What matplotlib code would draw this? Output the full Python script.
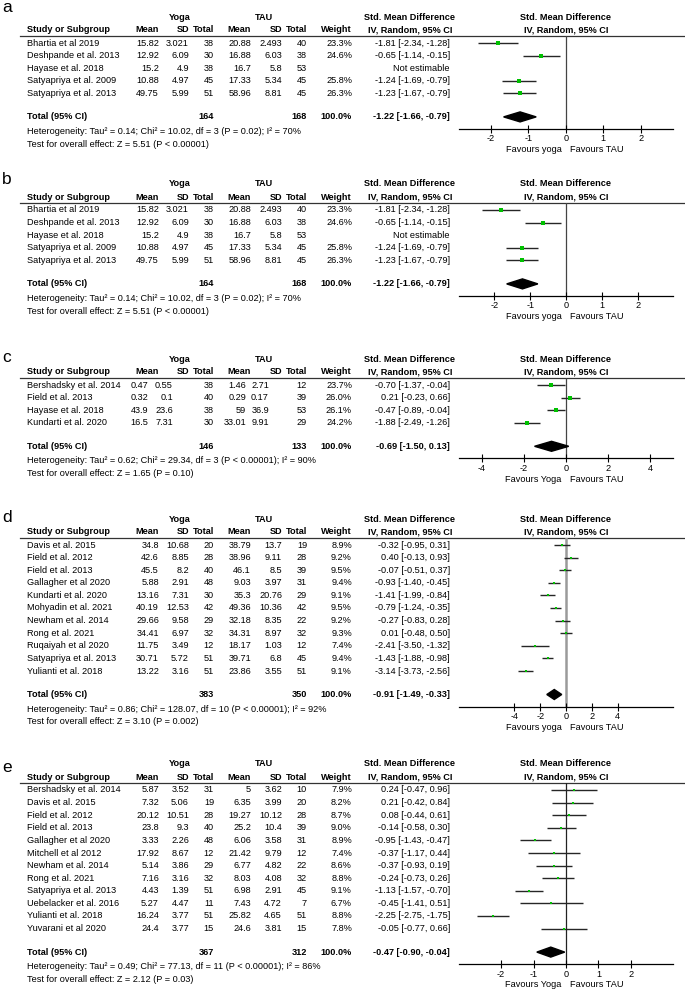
import matplotlib
matplotlib.use('Agg')
import matplotlib.pyplot as plt
from matplotlib.patches import Polygon

# ---------------- data ----------------
# panels a and b (same studies, same numbers)
ab_study = ['Bhartia et al 2019', 'Deshpande et al. 2013', 'Hayase et al. 2018',
            'Satyapriya et al. 2009', 'Satyapriya et al. 2013']
ab_yoga_mean = [15.82, 12.92, 15.2, 10.88, 49.75]
ab_yoga_sd = [3.021, 6.09, 4.9, 4.97, 5.99]
ab_yoga_n = [38, 30, 38, 45, 51]
ab_tau_mean = [20.88, 16.88, 16.7, 17.33, 58.96]
ab_tau_sd = [2.493, 6.03, 5.8, 5.34, 8.81]
ab_tau_n = [40, 38, 53, 45, 45]
ab_weight = [23.3, 24.6, None, 25.8, 26.3]
ab_smd = [-1.81, -0.65, None, -1.24, -1.23]
ab_lo = [-2.34, -1.14, None, -1.69, -1.67]
ab_hi = [-1.28, -0.15, None, -0.79, -0.79]
ab_total = [164, 168, -1.22, -1.66, -0.79]          # n yoga, n TAU, smd, lo, hi
ab_het = [0.14, 10.02, 3, 'P = 0.02', 70]          # tau2, chi2, df, p, I2
ab_test = [5.51, 'P < 0.00001']

# panel c
c_study = ['Bershadsky et al. 2014', 'Field et al. 2013', 'Hayase et al. 2018', 'Kundarti et al. 2020']
c_yoga_mean = [0.47, 0.32, 43.9, 16.5]
c_yoga_sd = [0.55, 0.1, 23.6, 7.31]
c_yoga_n = [38, 40, 38, 30]
c_tau_mean = [1.46, 0.29, 59, 33.01]
c_tau_sd = [2.71, 0.17, 36.9, 9.91]
c_tau_n = [12, 39, 53, 29]
c_weight = [23.7, 26.0, 26.1, 24.2]
c_smd = [-0.70, 0.21, -0.47, -1.88]
c_lo = [-1.37, -0.23, -0.89, -2.49]
c_hi = [-0.04, 0.66, -0.04, -1.26]
c_total = [146, 133, -0.69, -1.50, 0.13]
c_het = [0.62, 29.34, 3, 'P < 0.00001', 90]
c_test = [1.65, 'P = 0.10']

# panel d
d_study = ['Davis et al. 2015', 'Field et al. 2012', 'Field et al. 2013', 'Gallagher et al 2020',
           'Kundarti et al. 2020', 'Mohyadin et al. 2021', 'Newham et al. 2014', 'Rong et al. 2021',
           'Ruqaiyah et al 2020', 'Satyapriya et al. 2013', 'Yulianti et al. 2018']
d_yoga_mean = [34.8, 42.6, 45.5, 5.88, 13.16, 40.19, 29.66, 34.41, 11.75, 30.71, 13.22]
d_yoga_sd = [10.68, 8.85, 8.2, 2.91, 7.31, 12.53, 9.58, 6.97, 3.49, 5.72, 3.16]
d_yoga_n = [20, 28, 40, 48, 30, 42, 29, 32, 12, 51, 51]
d_tau_mean = [38.79, 38.96, 46.1, 9.03, 35.3, 49.36, 32.18, 34.31, 18.17, 39.71, 23.86]
d_tau_sd = [13.7, 9.11, 8.5, 3.97, 20.76, 10.36, 8.35, 8.97, 1.03, 6.8, 3.55]
d_tau_n = [19, 28, 39, 31, 29, 42, 22, 32, 12, 45, 51]
d_weight = [8.9, 9.2, 9.5, 9.4, 9.1, 9.5, 9.2, 9.3, 7.4, 9.4, 9.1]
d_smd = [-0.32, 0.40, -0.07, -0.93, -1.41, -0.79, -0.27, 0.01, -2.41, -1.43, -3.14]
d_lo = [-0.95, -0.13, -0.51, -1.40, -1.99, -1.24, -0.83, -0.48, -3.50, -1.88, -3.73]
d_hi = [0.31, 0.93, 0.37, -0.45, -0.84, -0.35, 0.28, 0.50, -1.32, -0.98, -2.56]
d_total = [383, 350, -0.91, -1.49, -0.33]
d_het = [0.86, 128.07, 10, 'P < 0.00001', 92]
d_test = [3.10, 'P = 0.002']

# panel e
e_study = ['Bershadsky et al. 2014', 'Davis et al. 2015', 'Field et al. 2012', 'Field et al. 2013',
           'Gallagher et al 2020', 'Mitchell et al 2012', 'Newham et al. 2014', 'Rong et al. 2021',
           'Satyapriya et al. 2013', 'Uebelacker et al. 2016', 'Yulianti et al. 2018', 'Yuvarani et al 2020']
e_yoga_mean = [5.87, 7.32, 20.12, 23.8, 3.33, 17.92, 5.14, 7.16, 4.43, 5.27, 16.24, 24.4]
e_yoga_sd = [3.52, 5.06, 10.51, 9.3, 2.26, 8.67, 3.86, 3.16, 1.39, 4.47, 3.77, 3.77]
e_yoga_n = [31, 19, 28, 40, 48, 12, 29, 32, 51, 11, 51, 15]
e_tau_mean = [5, 6.35, 19.27, 25.2, 6.06, 21.42, 6.77, 8.03, 6.98, 7.43, 25.82, 24.6]
e_tau_sd = [3.62, 3.99, 10.12, 10.4, 3.58, 9.79, 4.82, 4.08, 2.91, 4.72, 4.65, 3.81]
e_tau_n = [10, 20, 28, 39, 31, 12, 22, 32, 45, 7, 51, 15]
e_weight = [7.9, 8.2, 8.7, 9.0, 8.9, 7.4, 8.6, 8.8, 9.1, 6.7, 8.8, 7.8]
e_smd = [0.24, 0.21, 0.08, -0.14, -0.95, -0.37, -0.37, -0.24, -1.13, -0.45, -2.25, -0.05]
e_lo = [-0.47, -0.42, -0.44, -0.58, -1.43, -1.17, -0.93, -0.73, -1.57, -1.41, -2.75, -0.77]
e_hi = [0.96, 0.84, 0.61, 0.30, -0.47, 0.44, 0.19, 0.26, -0.70, 0.51, -1.75, 0.66]
e_total = [367, 312, -0.47, -0.90, -0.04]
e_het = [0.49, 77.13, 11, 'P < 0.00001', 86]
e_test = [2.12, 'P = 0.03']

# ---------------- layout ----------------
W, H = 685, 990
FS = 6.6
GREEN = '#00c000'
X_STUDY = 27
COLS = [159, 189, 214, 251, 282, 307]   # right edges: mean, sd, total (yoga), mean, sd, total (TAU)
X_W = 352
X_CI = 450
X_CI_HEAD = 410
X_P0, X_P1 = 459, 673
PITCH = 12.6

plt.rcParams['font.family'] = ['Liberation Sans', 'DejaVu Sans']

fig = plt.figure(figsize=(W / 100, H / 100), dpi=100)
bg = fig.add_axes([0, 0, 1, 1])
bg.set_xlim(0, W)
bg.set_ylim(H, 0)
bg.axis('off')


def fmt_ci(s, lo, hi):
    return f'{s:.2f} [{lo:.2f}, {hi:.2f}]'


def draw_panel(label, label_y, top, study, ym, ysd, yn, tm, tsd, tn, wt, smd, lo, hi,
               total, het, test, ticks, xlim, fav_left, ms, dcols=None,
               vcolor='#444444', vlw=0.9):
    dcols = dcols or COLS
    bg.text(2, label_y, label, fontsize=12.5, ha='left', va='center')

    # header
    hk = dict(fontsize=FS, weight='bold', va='center')
    bg.text(180, top, 'Yoga', ha='center', **hk)
    bg.text(264, top, 'TAU', ha='center', **hk)
    bg.text(X_CI_HEAD, top, 'Std. Mean Difference', ha='center', **hk)
    bg.text((X_P0 + X_P1) / 2, top, 'Std. Mean Difference', ha='center', **hk)
    h2 = top + 13
    bg.text(X_STUDY, h2, 'Study or Subgroup', ha='left', **hk)
    for x, t in zip(COLS, ['Mean', 'SD', 'Total', 'Mean', 'SD', 'Total']):
        bg.text(x, h2, t, ha='right', **hk)
    bg.text(X_W, h2, 'Weight', ha='right', **hk)
    bg.text(X_CI_HEAD, h2, 'IV, Random, 95% CI', ha='center', **hk)
    bg.text((X_P0 + X_P1) / 2, h2, 'IV, Random, 95% CI', ha='center', **hk)
    hline = top + 19
    bg.plot([20, W], [hline, hline], color='#333333', lw=0.9)

    # study rows
    rows = [top + 26 + i * PITCH for i in range(len(study))]
    tk = dict(fontsize=FS, va='center')
    for i, y in enumerate(rows):
        bg.text(X_STUDY, y, study[i], ha='left', **tk)
        vals = [ym[i], ysd[i], yn[i], tm[i], tsd[i], tn[i]]
        for x, v in zip(dcols, vals):
            bg.text(x, y, f'{v:g}', ha='right', **tk)
        if wt[i] is not None:
            bg.text(X_W, y, f'{wt[i]:.1f}%', ha='right', **tk)
        if smd[i] is None:
            bg.text(X_CI, y, 'Not estimable', ha='right', **tk)
        else:
            bg.text(X_CI, y, fmt_ci(smd[i], lo[i], hi[i]), ha='right', **tk)

    # total + footnotes
    ty = rows[-1] + 23.5
    bk = dict(fontsize=FS, va='center', weight='bold')
    bg.text(X_STUDY, ty, 'Total (95% CI)', ha='left', **bk)
    bg.text(COLS[2], ty, f'{total[0]}', ha='right', **bk)
    bg.text(COLS[5], ty, f'{total[1]}', ha='right', **bk)
    bg.text(X_W, ty, '100.0%', ha='right', **bk)
    bg.text(X_CI, ty, fmt_ci(total[2], total[3], total[4]), ha='right', **bk)
    bg.text(X_STUDY, ty + 14.5,
            f'Heterogeneity: Tau\u00b2 = {het[0]:.2f}; Chi\u00b2 = {het[1]:.2f}, df = {het[2]} '
            f'({het[3]}); I\u00b2 = {het[4]}%', ha='left', **tk)
    bg.text(X_STUDY, ty + 27.5, f'Test for overall effect: Z = {test[0]:.2f} ({test[1]})',
            ha='left', **tk)

    # forest plot
    ya = ty + 12
    ax = fig.add_axes([X_P0 / W, 1 - ya / H, (X_P1 - X_P0) / W, (ya - hline) / H])
    ax.set_xlim(xlim)
    ax.set_ylim(ya, hline)
    ax.patch.set_alpha(0)
    for s in ['top', 'right', 'left']:
        ax.spines[s].set_visible(False)
    ax.spines['bottom'].set_linewidth(0.9)
    ax.set_yticks([])
    ax.set_xticks(ticks)
    ax.set_xticklabels([f'{t:g}' for t in ticks])
    ax.tick_params(axis='x', direction='inout', length=6, width=0.8, labelsize=FS, pad=1)
    ax.axvline(0, color=vcolor, lw=vlw, zorder=1)
    for i, y in enumerate(rows):
        if smd[i] is None:
            continue
        ax.plot([lo[i], hi[i]], [y, y], color='#262626', lw=1.0, zorder=2, solid_capstyle='butt')
        ax.plot(smd[i], y, 's', color=GREEN, ms=ms, mew=0, zorder=3)
    dh = 5
    ax.add_patch(Polygon([(total[3], ty), (total[2], ty - dh), (total[4], ty), (total[2], ty + dh)],
                         closed=True, color='black', zorder=3))
    ax.annotate(fav_left, xy=(0, 0), xycoords=('data', 'axes fraction'), xytext=(-3, -15),
                textcoords='offset points', ha='right', va='center', fontsize=FS,
                annotation_clip=False)
    ax.annotate('Favours TAU', xy=(0, 0), xycoords=('data', 'axes fraction'), xytext=(3, -15),
                textcoords='offset points', ha='left', va='center', fontsize=FS,
                annotation_clip=False)


draw_panel('a', 7, 17, ab_study, ab_yoga_mean, ab_yoga_sd, ab_yoga_n, ab_tau_mean, ab_tau_sd,
           ab_tau_n, ab_weight, ab_smd, ab_lo, ab_hi, ab_total, ab_het, ab_test,
           [-2, -1, 0, 1, 2], (-2.85, 2.86), 'Favours yoga', 3.4)
draw_panel('b', 180, 184, ab_study, ab_yoga_mean, ab_yoga_sd, ab_yoga_n, ab_tau_mean, ab_tau_sd,
           ab_tau_n, ab_weight, ab_smd, ab_lo, ab_hi, ab_total, ab_het, ab_test,
           [-2, -1, 0, 1, 2], (-2.99, 2.98), 'Favours yoga', 3.4)
draw_panel('c', 358, 359, c_study, c_yoga_mean, c_yoga_sd, c_yoga_n, c_tau_mean, c_tau_sd,
           c_tau_n, c_weight, c_smd, c_lo, c_hi, c_total, c_het, c_test,
           [-4, -2, 0, 2, 4], (-5.1, 5.1), 'Favours Yoga', 3.4,
           dcols=[148, 173, 214, 246, 269, 307])
draw_panel('d', 518, 519, d_study, d_yoga_mean, d_yoga_sd, d_yoga_n, d_tau_mean, d_tau_sd,
           d_tau_n, d_weight, d_smd, d_lo, d_hi, d_total, d_het, d_test,
           [-4, -2, 0, 2, 4], (-8.3, 8.3), 'Favours yoga', 2.0, vcolor='#9a9a9a', vlw=1.8)
draw_panel('e', 768, 764, e_study, e_yoga_mean, e_yoga_sd, e_yoga_n, e_tau_mean, e_tau_sd,
           e_tau_n, e_weight, e_smd, e_lo, e_hi, e_total, e_het, e_test,
           [-2, -1, 0, 1, 2], (-3.3, 3.3), 'Favours Yoga', 2.0, vcolor='#222222')

fig.savefig('out.png', dpi=100, facecolor='white')
